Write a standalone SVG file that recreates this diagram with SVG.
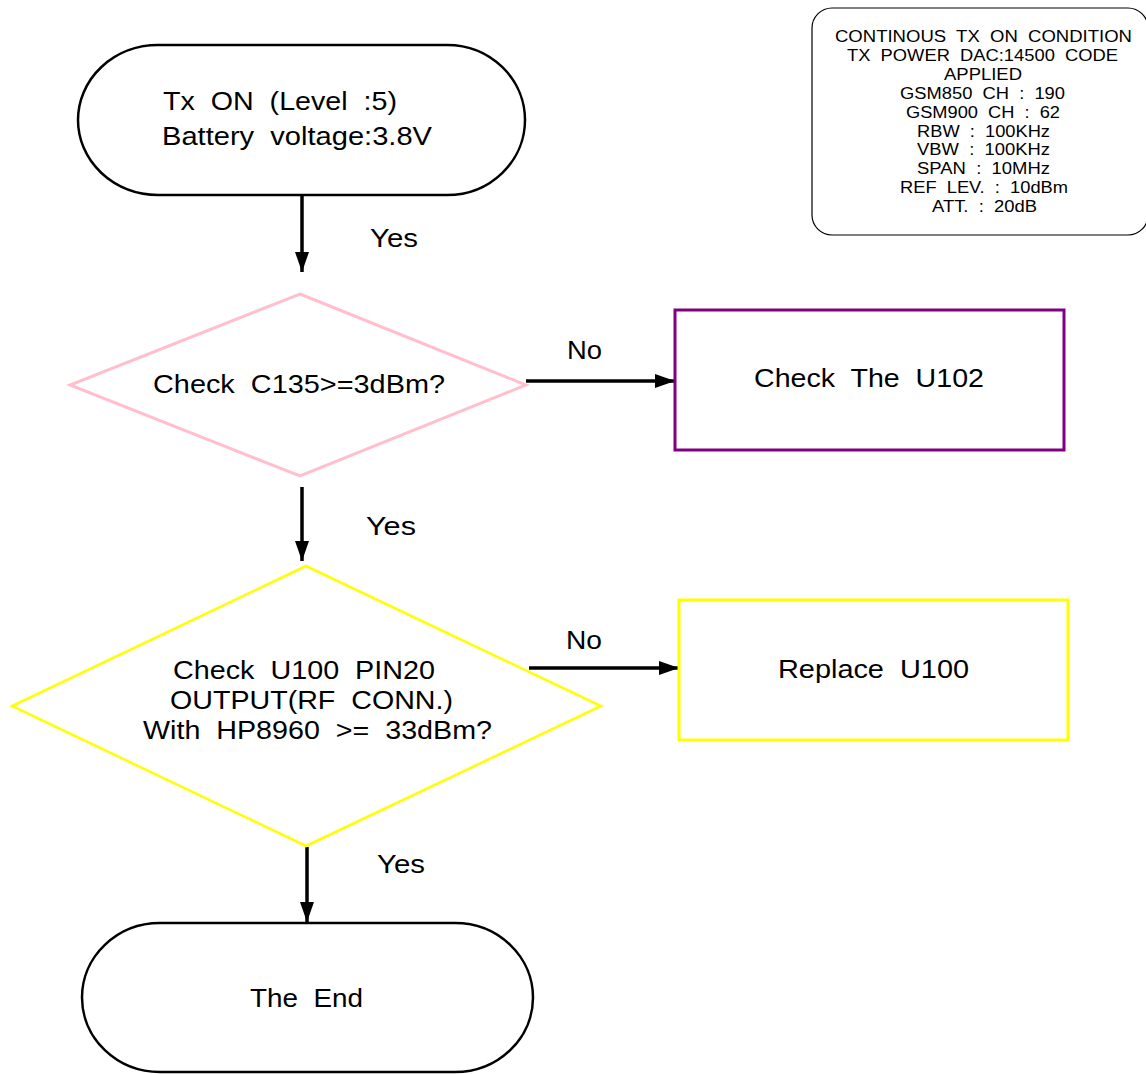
<svg xmlns="http://www.w3.org/2000/svg" width="1146" height="1074" viewBox="0 0 1146 1074">
<style>
  text { font-family: "Liberation Sans", Arial, sans-serif; fill: #000; white-space: pre; }
  .t { font-size: 25px; }
  .n { font-size: 16px; }
  .term { fill: #fff; stroke: #000; stroke-width: 2.5; }
  .conn { stroke: #000; stroke-width: 3.5; fill: none; marker-end: url(#arr); }
</style>
<defs>
  <marker id="arr" markerUnits="userSpaceOnUse" markerWidth="20" markerHeight="14" refX="20" refY="7" orient="auto">
    <path d="M0,0 L20,7 L0,14 Z" fill="#000"/>
  </marker>
</defs>
<rect width="1146" height="1074" fill="#fff"/>

<g id="connectors">
  <line class="conn" x1="302" y1="195" x2="302" y2="272"/>
  <line class="conn" x1="526" y1="381" x2="675" y2="381"/>
  <line class="conn" x1="302" y1="487" x2="302" y2="561"/>
  <line class="conn" x1="529" y1="668" x2="679" y2="668"/>
  <line class="conn" x1="307" y1="847" x2="307" y2="922"/>
  <text class="t" x="370" y="247" textLength="48" lengthAdjust="spacingAndGlyphs">Yes</text>
  <text class="t" x="366" y="535" textLength="50" lengthAdjust="spacingAndGlyphs">Yes</text>
  <text class="t" x="377" y="873" textLength="48" lengthAdjust="spacingAndGlyphs">Yes</text>
  <text class="t" x="567" y="359" textLength="35" lengthAdjust="spacingAndGlyphs">No</text>
  <text class="t" x="566" y="649" textLength="36" lengthAdjust="spacingAndGlyphs">No</text>
</g>

<g id="start">
  <path class="term" d="M158,45 H447 A78,75 0 0 1 447,195 H158 A80,75 0 0 1 158,45 Z"/>
  <text class="t" x="163" y="110" textLength="234" lengthAdjust="spacingAndGlyphs" xml:space="preserve">Tx  ON  (Level  :5)</text>
  <text class="t" x="162" y="145" textLength="270" lengthAdjust="spacingAndGlyphs" xml:space="preserve">Battery  voltage:3.8V</text>
</g>

<g id="notes">
  <rect x="812" y="8" width="336" height="227" rx="20" ry="20" fill="#fff" stroke="#000" stroke-width="1.2"/>
  <text class="n" x="835" y="42" textLength="297" lengthAdjust="spacingAndGlyphs" xml:space="preserve">CONTINOUS  TX  ON  CONDITION</text>
  <text class="n" x="847" y="61" textLength="271" lengthAdjust="spacingAndGlyphs" xml:space="preserve">TX  POWER  DAC:14500  CODE</text>
  <text class="n" x="944" y="80" textLength="78" lengthAdjust="spacingAndGlyphs">APPLIED</text>
  <text class="n" x="900" y="99" textLength="165" lengthAdjust="spacingAndGlyphs" xml:space="preserve">GSM850  CH  :  190</text>
  <text class="n" x="906" y="118" textLength="154" lengthAdjust="spacingAndGlyphs" xml:space="preserve">GSM900  CH  :  62</text>
  <text class="n" x="917" y="137" textLength="133" lengthAdjust="spacingAndGlyphs" xml:space="preserve">RBW  :  100KHz</text>
  <text class="n" x="917" y="155" textLength="133" lengthAdjust="spacingAndGlyphs" xml:space="preserve">VBW  :  100KHz</text>
  <text class="n" x="917" y="174" textLength="133" lengthAdjust="spacingAndGlyphs" xml:space="preserve">SPAN  :  10MHz</text>
  <text class="n" x="900" y="193" textLength="168" lengthAdjust="spacingAndGlyphs" xml:space="preserve">REF  LEV.  :  10dBm</text>
  <text class="n" x="932" y="212" textLength="105" lengthAdjust="spacingAndGlyphs" xml:space="preserve">ATT.  :  20dB</text>
</g>

<g id="check-c135">
  <polygon points="300,294 526,385 300,476 70,385" fill="#fff" stroke="#FFC0CB" stroke-width="3"/>
  <text class="t" x="153" y="393" textLength="292" lengthAdjust="spacingAndGlyphs" xml:space="preserve">Check  C135&gt;=3dBm?</text>
</g>

<g id="check-u102">
  <rect x="675" y="310" width="389" height="140" fill="#fff" stroke="#800080" stroke-width="3"/>
  <text class="t" x="754" y="387" textLength="230" lengthAdjust="spacingAndGlyphs" xml:space="preserve">Check  The  U102</text>
</g>

<g id="check-u100">
  <polygon points="306,566 601,706 306,846 12,706" fill="#fff" stroke="#FFFF00" stroke-width="2.5"/>
  <text class="t" x="173" y="679" textLength="262" lengthAdjust="spacingAndGlyphs" xml:space="preserve">Check  U100  PIN20</text>
  <text class="t" x="170" y="709" textLength="283" lengthAdjust="spacingAndGlyphs" xml:space="preserve">OUTPUT(RF  CONN.)</text>
  <text class="t" x="143" y="739" textLength="349" lengthAdjust="spacingAndGlyphs" xml:space="preserve">With  HP8960  &gt;=  33dBm?</text>
</g>

<g id="replace-u100">
  <rect x="679" y="600" width="389" height="140" fill="#fff" stroke="#FFFF00" stroke-width="3"/>
  <text class="t" x="778" y="678" textLength="191" lengthAdjust="spacingAndGlyphs" xml:space="preserve">Replace  U100</text>
</g>

<g id="end">
  <path class="term" d="M160,923 H455 A78,74.5 0 0 1 455,1072 H160 A78,74.5 0 0 1 160,923 Z"/>
  <text class="t" x="250" y="1007" textLength="113" lengthAdjust="spacingAndGlyphs" xml:space="preserve">The  End</text>
</g>
</svg>
